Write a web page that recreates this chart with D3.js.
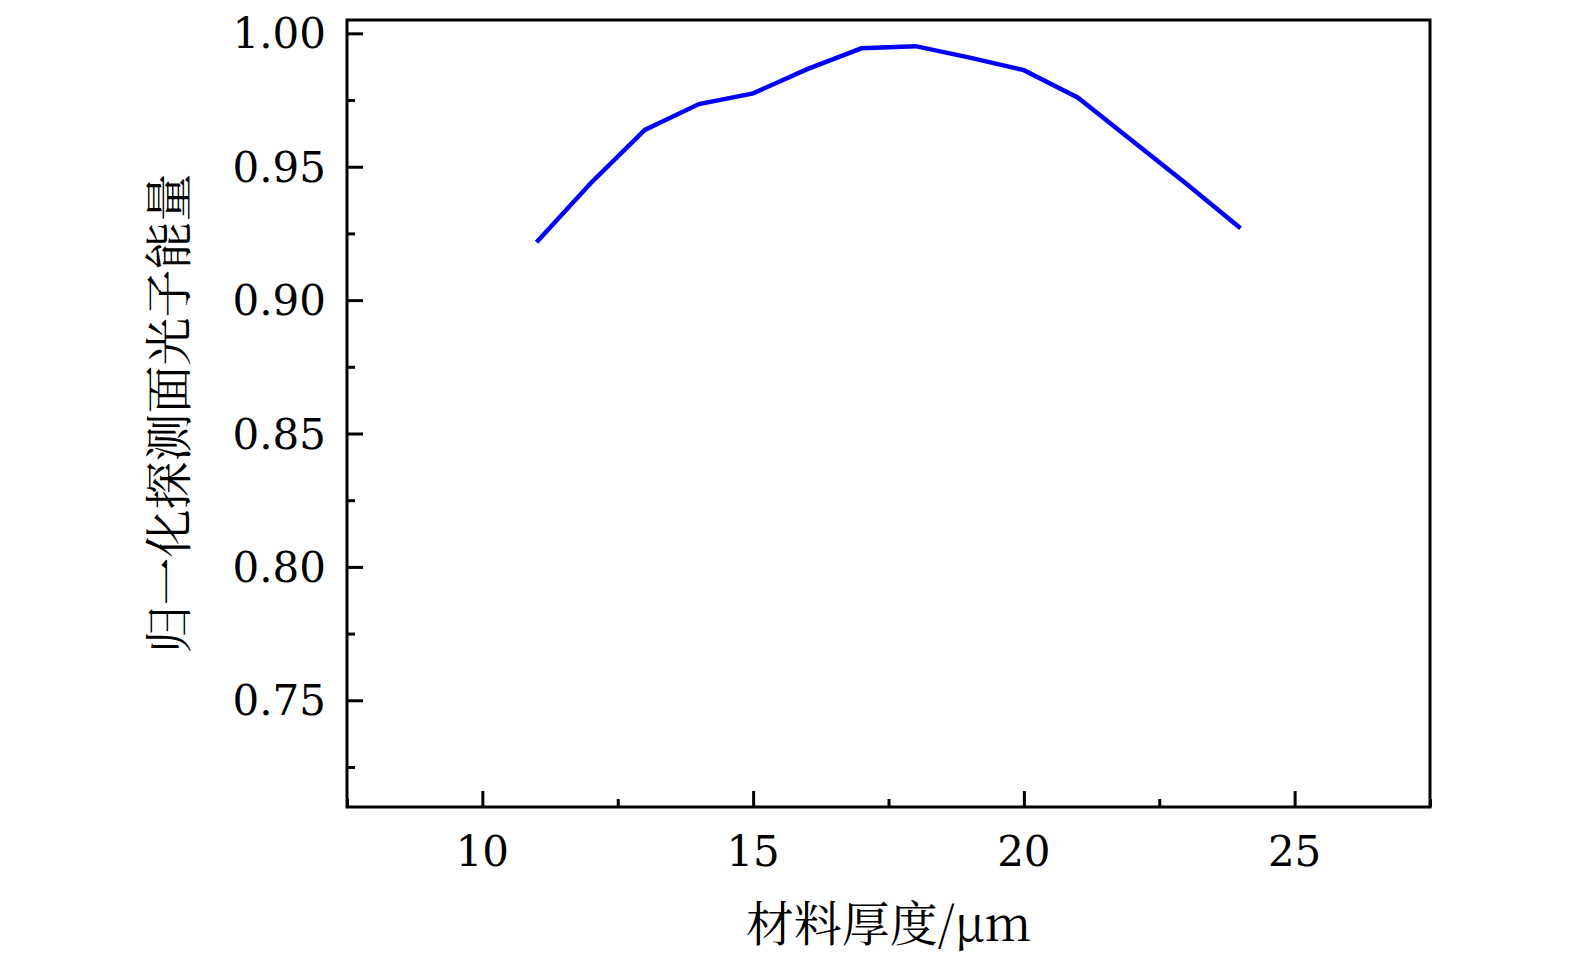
<!DOCTYPE html>
<html>
<head>
<meta charset="utf-8">
<script src="https://cdn.jsdelivr.net/npm/d3@7"></script>
<style>
  html, body { margin: 0; padding: 0; background: #fff; }
  svg { display: block; }
</style>
</head>
<body>
<script>
// Data
const thickness = [11, 12, 13, 14, 15, 16, 17, 18, 19, 20, 21, 22, 23, 24];
const energy = [0.9217, 0.9438, 0.9638, 0.9735, 0.9775, 0.9866, 0.9944, 0.9952, 0.9909, 0.9862, 0.9759, 0.9597, 0.9436, 0.9269];
const xMajorTicks = [10, 15, 20, 25];
const xMinorTicks = [7.5, 12.5, 17.5, 22.5, 27.5];
const yMajorTicks = [0.75, 0.80, 0.85, 0.90, 0.95, 1.00];
const yMinorTicks = [0.725, 0.775, 0.825, 0.875, 0.925, 0.975];
const xTitle = "材料厚度/μm";
const yTitle = "归一化探测面光子能量";

const W = 1575, H = 965;
const L = 347, R = 1430, T = 20, B = 807;
const serif = "'DejaVu Serif', 'Liberation Serif', serif";
const cjk = "'Noto Serif CJK SC', 'Noto Sans CJK SC', 'DejaVu Serif', serif";

const svg = d3.select("body").append("svg").attr("width", W).attr("height", H);

const x = d3.scaleLinear().domain([7.5, 27.5]).range([L, R]);
const y = d3.scaleLinear().domain([0.71, 1.005]).range([B, T]);

// Ticks (inward)
const gx = svg.append("g").attr("transform", `translate(0,${B})`);
gx.call(d3.axisTop(x).tickValues(xMajorTicks).tickSize(16).tickFormat(""));
gx.append("g").call(d3.axisTop(x).tickValues(xMinorTicks).tickSize(8).tickFormat(""));
const gy = svg.append("g").attr("transform", `translate(${L},0)`);
gy.call(d3.axisRight(y).tickValues(yMajorTicks).tickSize(16).tickFormat(""));
gy.append("g").call(d3.axisRight(y).tickValues(yMinorTicks).tickSize(8).tickFormat(""));
svg.selectAll(".domain").remove();
svg.selectAll(".tick line").attr("stroke", "#000").attr("stroke-width", 3);

// Tick labels
svg.append("g").selectAll("text").data(xMajorTicks).join("text")
  .attr("x", d => x(d)).attr("y", 866)
  .attr("text-anchor", "middle")
  .attr("font-family", serif).attr("font-size", 42)
  .text(d => d);
svg.append("g").selectAll("text").data(yMajorTicks).join("text")
  .attr("x", 326).attr("y", d => y(d))
  .attr("dy", "0.36em")
  .attr("text-anchor", "end")
  .attr("font-family", serif).attr("font-size", 42)
  .text(d => d3.format(".2f")(d));

// Frame
svg.append("rect").attr("x", L).attr("y", T).attr("width", R - L).attr("height", B - T)
  .attr("fill", "none").attr("stroke", "#000").attr("stroke-width", 3);

// Line
const line = d3.line().x((d, i) => x(thickness[i])).y(d => y(d));
svg.append("path").datum(energy).attr("d", line)
  .attr("fill", "none").attr("stroke", "#0000ff").attr("stroke-width", 4.5)
  .attr("stroke-linejoin", "miter");

// Axis titles
svg.append("text").attr("x", (L + R) / 2).attr("y", 941)
  .attr("text-anchor", "middle").attr("font-family", cjk).attr("font-size", 48)
  .text(xTitle);
svg.append("text")
  .attr("transform", `translate(186,${(T + B) / 2}) rotate(-90)`)
  .attr("text-anchor", "middle").attr("font-family", cjk).attr("font-size", 48)
  .text(yTitle);
</script>
</body>
</html>
